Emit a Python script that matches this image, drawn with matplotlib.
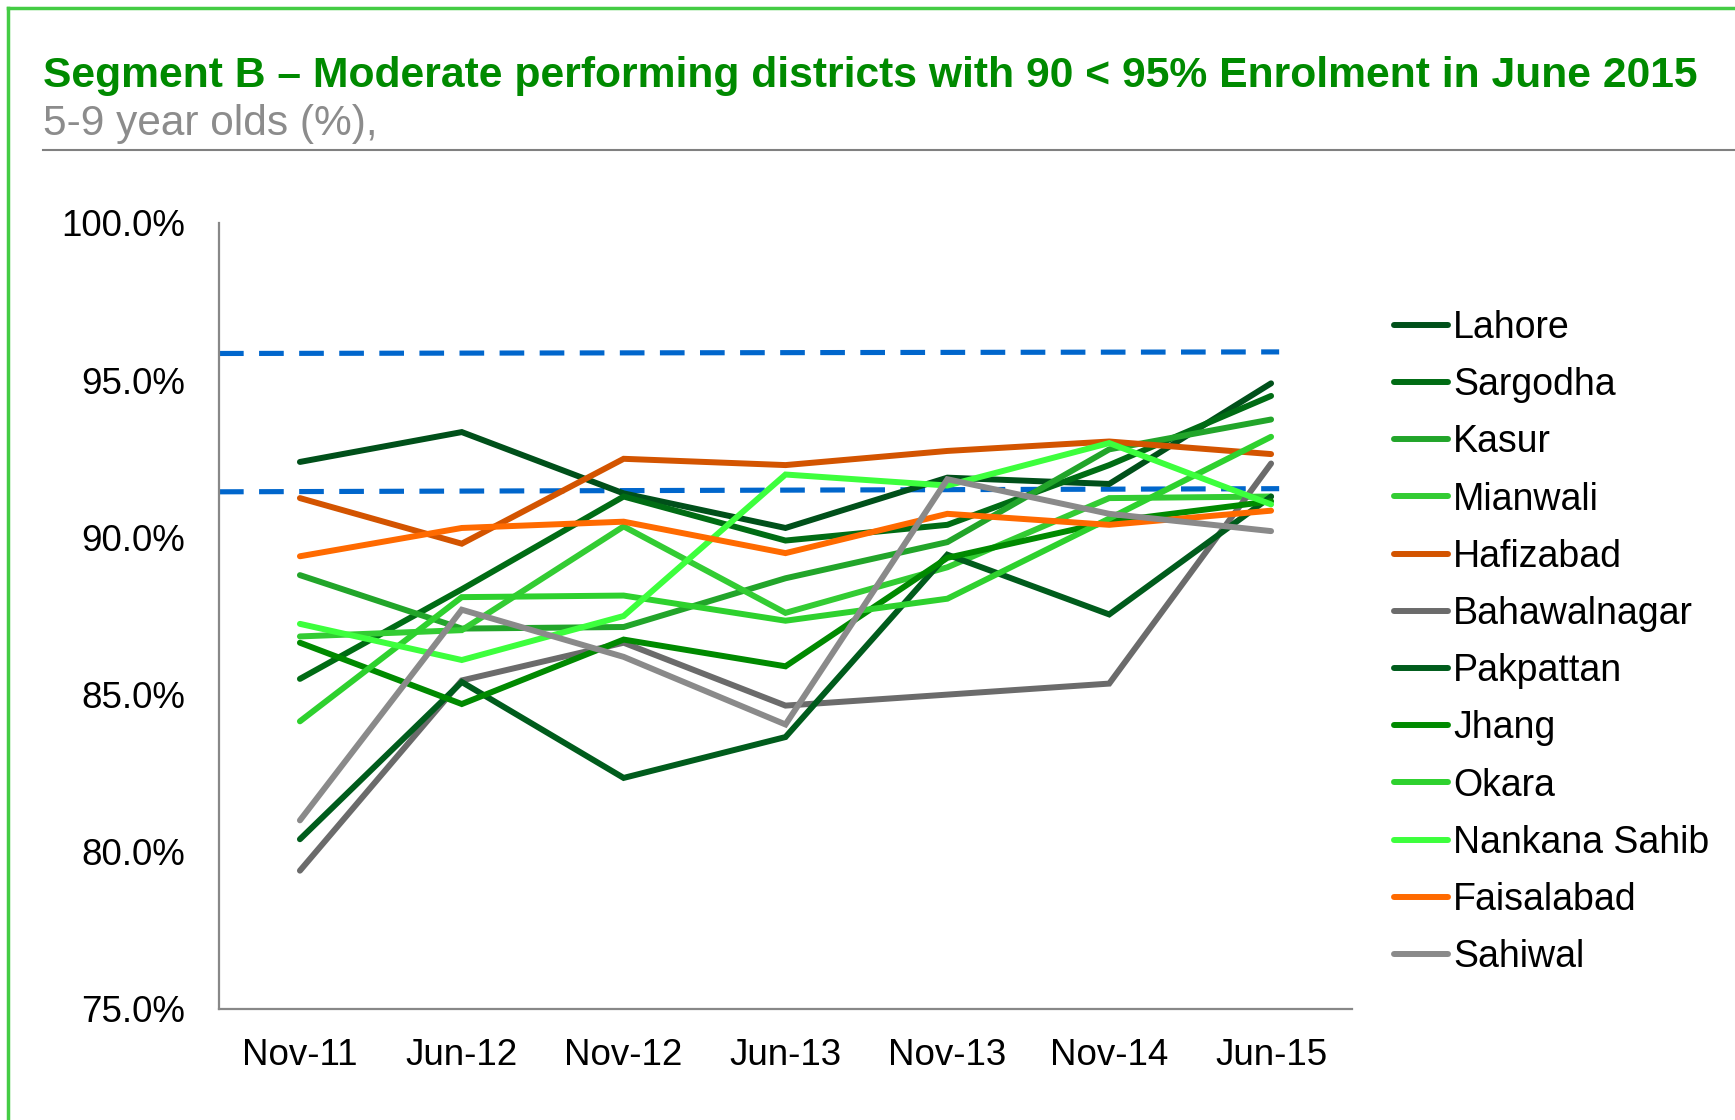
import matplotlib
matplotlib.use("Agg")
import matplotlib.pyplot as plt
from matplotlib.lines import Line2D

# ---- data ----
months = ["Nov-11", "Jun-12", "Nov-12", "Jun-13", "Nov-13", "Nov-14", "Jun-15"]

lahore = [92.4, 93.35, 91.4, 90.3, 91.9, 91.7, 94.9]
sargodha = [85.5, 88.35, 91.3, 89.9, 90.4, 92.3, 94.5]
kasur = [88.8, 87.1, 87.15, 88.7, 89.85, 92.8, 93.75]
mianwali = [86.85, 87.05, 90.35, 87.6, 89.05, 91.25, 91.3]
hafizabad = [91.25, 89.8, 92.5, 92.3, 92.75, 93.05, 92.65]
bahawalnagar = [79.4, 85.45, 86.65, 84.65, 85.0, 85.35, 92.35]
pakpattan = [80.4, 85.4, 82.35, 83.65, 89.45, 87.55, 91.3]
jhang = [86.65, 84.7, 86.75, 85.9, 89.35, 90.5, 91.15]
okara = [84.15, 88.1, 88.15, 87.35, 88.05, 90.6, 93.2]
nankana_sahib = [87.25, 86.1, 87.5, 92.0, 91.65, 93.0, 91.05]
faisalabad = [89.4, 90.3, 90.5, 89.5, 90.75, 90.4, 90.85]
sahiwal = [81.0, 87.7, 86.2, 84.05, 91.85, 90.75, 90.2]

# band of the segment (dashed blue lines), start and end value
upper_band = [95.85, 95.9]
lower_band = [91.45, 91.55]

districts = ["Lahore", "Sargodha", "Kasur", "Mianwali", "Hafizabad", "Bahawalnagar",
             "Pakpattan", "Jhang", "Okara", "Nankana Sahib", "Faisalabad", "Sahiwal"]
series = [lahore, sargodha, kasur, mianwali, hafizabad, bahawalnagar,
          pakpattan, jhang, okara, nankana_sahib, faisalabad, sahiwal]
colors = ["#00501a", "#006c14", "#22a52a", "#33cc33", "#d35400", "#6b6b6b",
          "#005c1c", "#008a00", "#2ed12e", "#3dff3d", "#ff6a00", "#8a8a8a"]

W, H = 1735, 1120
FONT = "Liberation Sans"


def main():
    plt.rcParams["font.family"] = [FONT, "DejaVu Sans"]
    fig = plt.figure(figsize=(W / 100, H / 100), dpi=100)

    # frame of the slide (only top and left edges are visible)
    fig.add_artist(Line2D([8 / W, 1], [1 - 8 / H, 1 - 8 / H], color="#44cc44", lw=2.5))
    fig.add_artist(Line2D([8 / W, 8 / W], [0, 1 - 8 / H], color="#44cc44", lw=2.5))

    fig.text(43 / W, 1 - 87 / H,
             "Segment B \u2013 Moderate performing districts with 90 < 95% Enrolment in June 2015",
             color="#008a00", fontsize=30.7, fontweight="bold", va="baseline", ha="left")
    fig.text(43 / W, 1 - 135 / H, "5-9 year olds (%),", color="#8c8c8c",
             fontsize=30.5, va="baseline", ha="left")
    fig.add_artist(Line2D([43 / W, 1], [1 - 150 / H, 1 - 150 / H], color="#808080", lw=1.5))

    ax = fig.add_axes([219 / W, 1 - 1009 / H, (1352 - 219) / W, (1009 - 223) / H])
    x = list(range(len(months)))

    band_x = [x[0] - 0.5, x[-1] + 0.05]
    ax.plot(band_x, upper_band, color="#0066cc", lw=3.7, dashes=(4.8, 3.0), zorder=1)
    ax.plot(band_x, lower_band, color="#0066cc", lw=3.7, dashes=(4.8, 3.0), zorder=1)

    for name, values, c in zip(districts, series, colors):
        ax.plot(x, values, color=c, lw=4.3, label=name,
                solid_capstyle="round", solid_joinstyle="miter", zorder=2)

    ax.set_xlim(-0.5, len(months) - 0.5)
    ax.set_ylim(75, 100)
    ax.set_xticks(x)
    ax.set_xticklabels(months)
    ax.set_yticks([75, 80, 85, 90, 95, 100])
    ax.set_yticklabels([f"{v:.1f}%" for v in [75, 80, 85, 90, 95, 100]])
    ax.tick_params(length=0, labelsize=26.5, colors="black")
    ax.tick_params(axis="y", pad=24.5)
    ax.tick_params(axis="x", pad=21)
    for side in ["top", "right"]:
        ax.spines[side].set_visible(False)
    for side in ["left", "bottom"]:
        ax.spines[side].set_color("#888888")
        ax.spines[side].set_linewidth(1.6)

    handles, labels = ax.get_legend_handles_labels()
    fig.legend(handles, labels, loc="upper left",
               bbox_to_anchor=(1394 / W, 1 - 310 / H), frameon=False,
               fontsize=27, handlelength=1.43, handletextpad=0.15,
               labelspacing=0.565, borderpad=0, borderaxespad=0)

    fig.savefig("out.png", dpi=100)


if __name__ == "__main__":
    main()
